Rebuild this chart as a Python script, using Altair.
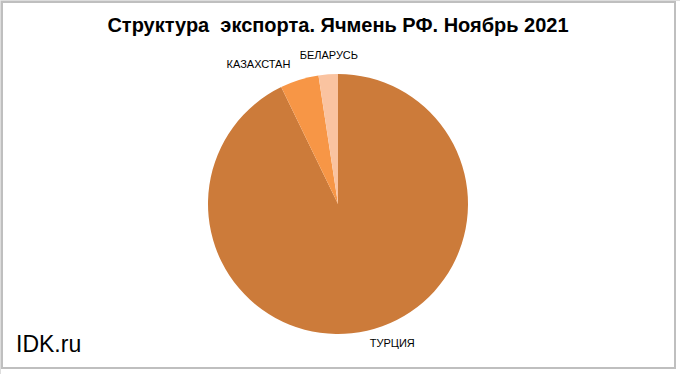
import altair as alt
import pandas as pd

countries = ["ТУРЦИЯ", "КАЗАХСТАН", "БЕЛАРУСЬ"]
shares = [92.8, 4.8, 2.4]
order_idx = [0, 1, 2]
colors = ["#CC7B3A", "#F79646", "#FAC3A0"]

df = pd.DataFrame({"country": countries, "share": shares, "idx": order_idx})

CX, CY = 338, 204
FONT = "Liberation Sans"

base = alt.Chart(df)

pie = base.mark_arc(outerRadius=130, stroke=None).encode(
    theta=alt.Theta("share:Q", stack=True),
    order=alt.Order("idx:Q"),
    color=alt.Color("country:N", scale=alt.Scale(domain=countries, range=colors), legend=None),
    x=alt.value(CX),
    y=alt.value(CY),
)

label_offsets = {"ТУРЦИЯ": (144, 22, 0), "КАЗАХСТАН": (150, -35, 4), "БЕЛАРУСЬ": (148, 2, 0)}

labels = []
for c in countries:
    r, ddx, ddy = label_offsets[c]
    labels.append(
        base.mark_text(radius=r, dx=ddx, dy=ddy, fontSize=11, font=FONT, color="#000000", baseline="middle")
        .encode(
            theta=alt.Theta("share:Q", stack=True),
            order=alt.Order("idx:Q"),
            detail="country:N",
            text="country:N",
            opacity=alt.condition(alt.datum.country == c, alt.value(1), alt.value(0)),
            x=alt.value(CX),
            y=alt.value(CY),
        )
    )

title_df = pd.DataFrame({"t": ["Структура\u00a0\u00a0экспорта. Ячмень РФ. Ноябрь\u00a02021"]})
title = alt.Chart(title_df).mark_text(
    fontSize=20, fontWeight="bold", font=FONT, color="#000000", baseline="alphabetic", align="center"
).encode(text="t:N", x=alt.value(338), y=alt.value(32))

wm_df = pd.DataFrame({"t": ["IDK.ru"]})
wm = alt.Chart(wm_df).mark_text(
    fontSize=23, font=FONT, color="#000000", baseline="alphabetic", align="left"
).encode(text="t:N", x=alt.value(16), y=alt.value(352))

border = alt.Chart(wm_df).mark_rect(fill=None, stroke="#BFBFBF", strokeWidth=2).encode(
    x=alt.value(2), x2=alt.value(675), y=alt.value(2), y2=alt.value(368)
)

chart = alt.layer(border, pie, *labels, title, wm).properties(
    width=680, height=374, padding=0, autosize=alt.AutoSizeParams(type="none")
).configure_view(stroke=None).configure(background="#FFFFFF")

chart.save("out.html", embed_options={"renderer": "svg", "actions": False})
